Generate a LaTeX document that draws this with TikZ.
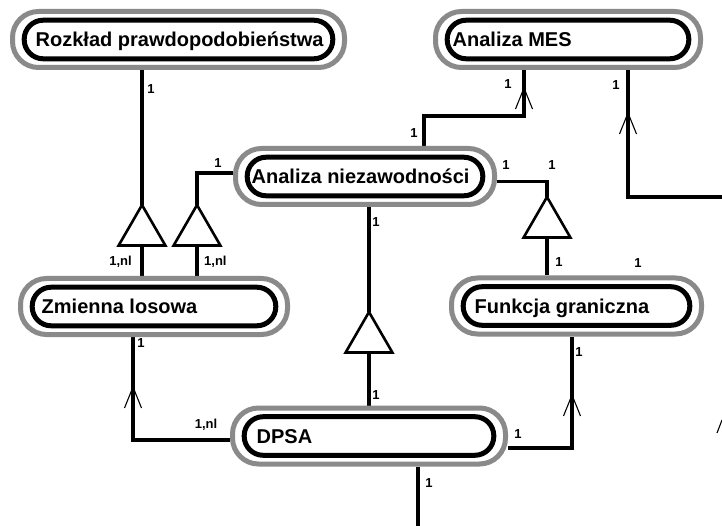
\documentclass[tikz,border=0pt]{standalone}
\usepackage{fontspec}
\setmainfont{Liberation Sans}
\usetikzlibrary{shapes.geometric,backgrounds}
\definecolor{rimgray}{RGB}{138,138,138}

% entity box: grey outer rim, black inner rim, title set from the left
\newcommand\erbox[6]{%
  \node[entity, minimum width=#4pt] (#1) at (#2,#3) {};
  \draw[core] ([shift={(14.2,11.2)}]#1.north west) rectangle ([shift={(-14.2,-11.2)}]#1.south east);
  \node[title] (#1-t) at (#5,#3) {#6};
}

\begin{document}
\begin{tikzpicture}[x=1pt,y=-1pt,
  entity/.style={draw=rimgray, line width=5pt, rounded corners=26pt,
    minimum height=56pt, inner sep=0pt, fill=white},
  core/.style={draw=black, line width=5pt, rounded corners=19pt},
  title/.style={anchor=west, inner sep=0pt, text height=14.3pt, text depth=0pt,
    font=\bfseries\fontsize{20}{20}\selectfont},
  link/.style={draw=black, line width=3.2pt},
  isa/.style={draw=black, line width=2.6pt, fill=white, regular polygon,
    regular polygon sides=3, minimum size=54pt, inner sep=0pt, outer sep=0pt},
  tag/.style={inner sep=0pt, font=\bfseries\fontsize{13}{13}\selectfont},
  vee/.style={draw=black, line width=1.1pt},
  upvee/.pic={\draw[vee] (-8.5,21) -- (0,0) -- (8.5,21);}
]
\useasboundingbox (0,0) rectangle (722,526);

% entities
\erbox{rp}{178.5}{39.5}{332}{35.5}{Rozkład prawdopodobieństwa}
\erbox{mes}{568}{39.5}{265}{452.5}{Analiza MES}
\erbox{an}{365}{176.5}{259}{251.5}{Analiza niezawodności}
\erbox{zl}{154}{306.5}{267}{41.5}{Zmienna losowa}
\erbox{fg}{576.5}{306}{250}{474.5}{Funkcja graniczna}
\erbox{dpsa}{369}{436}{273}{256.5}{DPSA}

% generalisation triangles
\node[isa] (t1) at (142,232) {};
\node[isa] (t2) at (197,232) {};
\node[isa] (t3) at (547,224) {};
\node[isa] (t4) at (369,339) {};

% free ends at the picture border
\coordinate (eastend) at (722,197);
\coordinate (southend) at (418,526);

\begin{scope}[on background layer]
  \fill[white] (0,0) rectangle (722,526);
  \draw[link] (t1.corner 1 |- rp.south) -- (t1.corner 1);
  \draw[link] (t1.side 2) -- (t1.side 2 |- zl.north);
  \draw[link] ([shift={(0,-3.5)}]an.west) -| (t2.corner 1);
  \draw[link] (t2.side 2) -- (t2.side 2 |- zl.north);
  \draw[link] ([shift={(59,0)}]an.north) -- ++(0,-30) -| ([shift={(-44,0)}]mes.south);
  \draw[link] ([shift={(60,0)}]mes.south) |- (eastend);
  \draw[link] ([shift={(0,5)}]an.east) -| (t3.corner 1);
  \draw[link] (t3.side 2) -- (t3.side 2 |- fg.north);
  \draw[link] (t4.corner 1 |- an.south) -- (t4.corner 1);
  \draw[link] (t4.side 2) -- (t4.side 2 |- dpsa.north);
  \draw[link] ([shift={(-21,0)}]zl.south) |- ([shift={(0,4)}]dpsa.west);
  \draw[link] ([shift={(0,12)}]dpsa.east) -| ([shift={(-4.5,0)}]fg.south);
  \draw[link] (southend |- dpsa.south) -- (southend);
\end{scope}

% open arrowheads on the links
\pic at (524,88) {upvee};
\pic at (628,113) {upvee};
\pic at (133,387) {upvee};
\pic at (572,395) {upvee};
\draw[vee] (717,433) -- (722,420);

% cardinalities
\node[tag] (c1) at (151,89) {1};
\node[tag] (c2) at (218,163) {1};
\node[tag, anchor=east] (c3) at (132,262) {1,nl};
\node[tag, anchor=west] (c4) at (204,262) {1,nl};
\node[tag] (c5) at (508,84) {1};
\node[tag] (c6) at (414,133) {1};
\node[tag] (c7) at (616,85) {1};
\node[tag] (c8) at (506,165) {1};
\node[tag] (c9) at (552,165) {1};
\node[tag] (c10) at (376,222) {1};
\node[tag] (c11) at (559,262) {1};
\node[tag] (c12) at (638,263) {1};
\node[tag] (c13) at (376,395) {1};
\node[tag] (c14) at (141,343) {1};
\node[tag] (c15) at (206,425) {1,nl};
\node[tag] (c16) at (518,434) {1};
\node[tag] (c17) at (579,352) {1};
\node[tag] (c18) at (429,483) {1};
\end{tikzpicture}
\end{document}
